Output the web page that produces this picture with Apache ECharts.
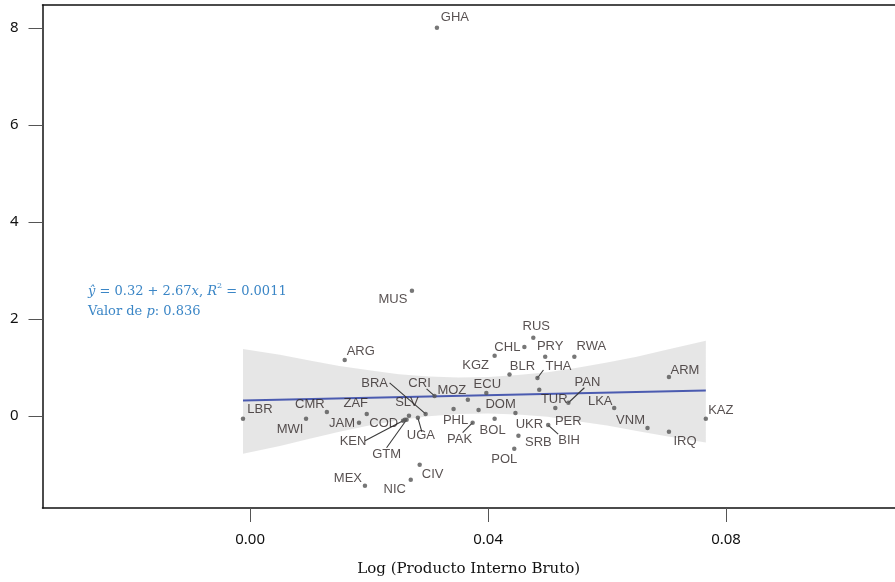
<!DOCTYPE html>
<html><head><meta charset="utf-8">
<script src="https://cdn.jsdelivr.net/npm/echarts@6/dist/echarts.min.js"></script>
<style>html,body{margin:0;padding:0;background:#fff}#c{width:895px;height:582px}</style>
</head><body><div id="c"></div>
<script>
// Country codes, x = log GDP, y = outcome
const countries = ['GHA','MUS','ARG','LBR','MWI','CMR','JAM','ZAF','COD','KEN','GTM','SLV','UGA','BRA','CRI','MOZ','PHL','PAK','ECU','DOM','BOL','UKR','SRB','POL','RUS','CHL','KGZ','PRY','RWA','BLR','THA','TUR','PAN','PER','BIH','LKA','VNM','ARM','IRQ','KAZ','MEX','NIC','CIV'];
const xValues = [0.0314,0.0272,0.0159,-0.0012,0.0094,0.0129,0.0183,0.0196,0.0260,0.0257,0.0263,0.0267,0.0282,0.0295,0.0310,0.0366,0.0342,0.0374,0.0397,0.0384,0.0411,0.0446,0.0451,0.0444,0.0476,0.0461,0.0411,0.0496,0.0545,0.0436,0.0483,0.0486,0.0535,0.0513,0.0501,0.0612,0.0668,0.0704,0.0704,0.0766,0.0193,0.0270,0.0285];
const yValues = [8.00,2.58,1.15,-0.06,-0.06,0.08,-0.14,0.04,-0.08,-0.10,-0.08,0.00,-0.04,0.04,0.41,0.33,0.14,-0.14,0.47,0.12,-0.06,0.06,-0.41,-0.68,1.61,1.42,1.24,1.22,1.22,0.85,0.78,0.54,0.27,0.16,-0.19,0.16,-0.25,0.80,-0.33,-0.06,-1.44,-1.32,-1.01];

// Fitted line and confidence band
const fitX = [-0.0012, 0.0766];
const fitY = [0.317, 0.524];
const bandX = [-0.0012, 0.005, 0.01, 0.015, 0.02, 0.025, 0.03, 0.035, 0.04, 0.045, 0.05, 0.055, 0.06, 0.065, 0.07, 0.0766];
const bandUpper = [1.38, 1.26, 1.14, 1.03, 0.94, 0.86, 0.81, 0.79, 0.80, 0.84, 0.90, 0.99, 1.10, 1.22, 1.36, 1.55];
const bandLower = [-0.78, -0.62, -0.47, -0.33, -0.20, -0.09, -0.01, 0.04, 0.05, 0.03, -0.02, -0.11, -0.20, -0.31, -0.42, -0.55];

const xTicks = [0, 0.04, 0.08];
const yTicks = [0, 2, 4, 6, 8];

// label placement (pixel offsets of label centre from point), ggrepel-like
const labelOffsets = {
  GHA:[18,-10], MUS:[-19,9], ARG:[16,-9], LBR:[17,-9], MWI:[-16,11], CMR:[-17,-8], JAM:[-17,1],
  ZAF:[-11,-10], COD:[-21,4], KEN:[-50,21], GTM:[-20,35], SLV:[-2,-13], UGA:[3,18], BRA:[-51,-30],
  CRI:[-15,-13], MOZ:[-16,-9], PHL:[2,11], PAK:[-13,17], ECU:[1,-9], DOM:[22,-6], BOL:[-2,12],
  UKR:[14,11], SRB:[20,7], POL:[-10,11], RUS:[3,-11], CHL:[-17,0], KGZ:[-19,10], PRY:[5,-10],
  RWA:[17,-10], BLR:[13,-8], THA:[21,-12], TUR:[15,10], PAN:[19,-20], PER:[13,13], BIH:[21,15],
  LKA:[-14,-7], VNM:[-17,-8], ARM:[16,-7], IRQ:[16,10], KAZ:[15,-8], MEX:[-17,-7], NIC:[-16,10], CIV:[13,10]
};
const leaderEnds = {
  KEN:[-38,20], GTM:[-20,28], UGA:[4,14], BRA:[-36,-31], CRI:[-8,-7], PAK:[-10,10], THA:[6,-8], PAN:[16,-15], BIH:[10,9]
};

const pts = countries.map((c,i)=>({name:c, value:[xValues[i], yValues[i]]}));
const leaderData = countries.map((c,i)=>[xValues[i], yValues[i], c]).filter(d=>leaderEnds[d[2]]);

const chart = echarts.init(document.getElementById('c'), null, {renderer:'canvas'});
const XMIN = -0.0349, XMAX = 0.1084, YMIN = -1.90, YMAX = 8.47;
chart.setOption({
  animation:false,
  backgroundColor:'#fff',
  grid:{left:42.5, right:0, top:5, bottom:73.5},
  xAxis:[{
    type:'value', min:XMIN, max:XMAX, position:'bottom',
    name:'Log (Producto Interno Bruto)', nameLocation:'middle', nameGap:54,
    nameTextStyle:{fontFamily:'DejaVu Serif', fontSize:15, color:'#111'},
    axisLine:{show:true, onZero:false, lineStyle:{color:'#111', width:1.5}},
    axisTick:{show:true, length:14, customValues:xTicks, lineStyle:{color:'#555', width:1}},
    axisLabel:{margin:24, customValues:xTicks, fontFamily:'Noto Sans', fontSize:15, color:'#111',
      formatter:v=>v.toFixed(2)},
    splitLine:{show:false}
  },{
    type:'value', min:XMIN, max:XMAX, position:'top',
    axisLine:{show:true, onZero:false, lineStyle:{color:'#111', width:1.5}},
    axisTick:{show:false}, axisLabel:{show:false}, splitLine:{show:false}
  }],
  yAxis:{
    type:'value', min:YMIN, max:YMAX,
    axisLine:{show:true, onZero:false, lineStyle:{color:'#111', width:1.5}},
    axisTick:{show:true, length:14, customValues:yTicks, lineStyle:{color:'#555', width:1}},
    axisLabel:{margin:24, customValues:yTicks, fontFamily:'Noto Sans', fontSize:15, color:'#111'},
    splitLine:{show:false}
  },
  series:[
    {
      type:'custom', name:'band', xAxisIndex:0, yAxisIndex:0, silent:true, z:1,
      data:[0],
      renderItem:(params, api)=>{
        const p = [];
        for (let i=0;i<bandX.length;i++) p.push(api.coord([bandX[i], bandUpper[i]]));
        for (let i=bandX.length-1;i>=0;i--) p.push(api.coord([bandX[i], bandLower[i]]));
        return {type:'polygon', shape:{points:p}, style:{fill:'rgba(200,200,200,0.45)'}};
      }
    },
    {
      type:'line', name:'fit', data:fitX.map((x,i)=>[x, fitY[i]]), symbol:'none', z:3,
      lineStyle:{color:'#4b5bb0', width:2}, silent:true
    },
    {
      type:'custom', name:'leaders', z:4, silent:true,
      data:leaderData,
      renderItem:(params, api)=>{
        const c = api.coord([api.value(0), api.value(1)]);
        const e = leaderEnds[leaderData[params.dataIndex][2]];
        return {type:'line', shape:{x1:c[0], y1:c[1], x2:c[0]+e[0], y2:c[1]+e[1]}, style:{stroke:'#3a3a3a', lineWidth:1.1}};
      }
    },
    {
      type:'scatter', name:'countries', data:pts, symbolSize:4.5, z:5,
      itemStyle:{color:'#555'},
      label:{show:true, formatter:p=>p.name, fontFamily:'Liberation Sans', fontSize:13, color:'#2e2626', position:'inside'},
      labelLayout:(params)=>{
        const nm = countries[params.dataIndex];
        const o = labelOffsets[nm] || [12,-8];
        const r = params.rect;
        const cx = r.x + r.width/2, cy = r.y + r.height/2;
        return {x: cx + o[0], y: cy + o[1], align:'center', verticalAlign:'middle'};
      }
    }
  ],
  graphic:[{
    type:'text', left:88, top:282,
    style:{
      rich:{
        n:{fontFamily:'DejaVu Serif', fontSize:13, fill:'#3b86c6'},
        i:{fontFamily:'DejaVu Serif', fontStyle:'italic', fontSize:13, fill:'#3b86c6'},
        s:{fontFamily:'DejaVu Serif', fontSize:8, fill:'#3b86c6', verticalAlign:'top', padding:[0,0,6,0]}
      },
      text:'{i|ŷ}{n| = 0.32 + 2.67}{i|x}{n|, }{i|R}{s|2}{n| = 0.0011}\n{n|Valor de }{i|p}{n|: 0.836}',
      lineHeight:20
    }
  }]
});
</script></body></html>
